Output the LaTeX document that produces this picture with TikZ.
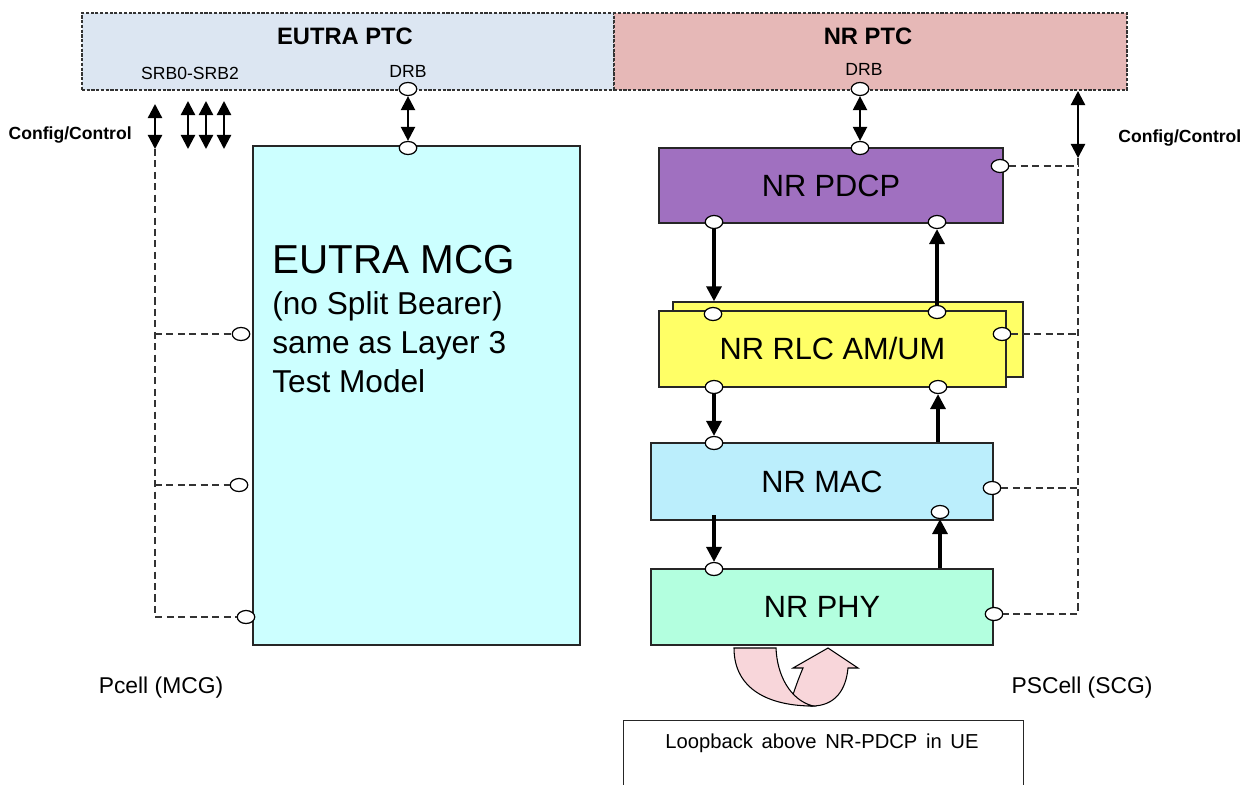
\documentclass[tikz,border=0pt]{standalone}
\usepackage{fontspec}
\setmainfont{Liberation Sans}
\usetikzlibrary{arrows.meta,shapes.geometric}
\definecolor{eutraptc}{HTML}{DCE6F2}
\definecolor{nrptc}{HTML}{E6B8B7}
\definecolor{eutramcg}{HTML}{CCFFFF}
\definecolor{pdcpfill}{HTML}{A070C0}
\definecolor{rlcfill}{HTML}{FFFF66}
\definecolor{macfill}{HTML}{BBEEFC}
\definecolor{phyfill}{HTML}{B3FFDF}
\definecolor{loopfill}{HTML}{F8D6DA}

\begin{document}
\begin{tikzpicture}[x=0.2mm,y=-0.2mm,
        ptc/.style={draw=black!80, dash pattern=on 1.8pt off 0.9pt, line width=0.6pt, minimum height=77*0.2mm, inner sep=0pt},
        layer/.style={draw=black!85, line width=0.8pt, inner sep=0pt, font=\fontsize{17.5}{20}\selectfont},
        port/.style={ellipse, draw=black, fill=white, line width=0.7pt, minimum width=3.5mm, minimum height=2.6mm, inner sep=0pt},
        biarrow/.style={{Triangle[width=8pt,length=8pt]}-{Triangle[width=8pt,length=8pt]}, line width=1.3pt},
        flow/.style={-{Triangle[width=8.5pt,length=8.5pt]}, line width=1.9pt},
        ctrl/.style={draw=black!80, dash pattern=on 4pt off 2.5pt, line width=0.6pt},
        small/.style={font=\fontsize{10}{12}\selectfont, inner sep=0pt},
        cfg/.style={font=\bfseries\fontsize{10}{12}\selectfont, inner sep=0pt},
        cell/.style={font=\fontsize{13}{15}\selectfont, inner sep=0pt}]
        \useasboundingbox (0,0) rectangle (1246,785);
        \clip (0,0) rectangle (1246,785);

        \node[ptc, fill=eutraptc, minimum width=532*0.2mm] (eptc) at (348,51.5) {};
        \node[ptc, fill=nrptc, minimum width=513*0.2mm] (nptc) at (870.5,51.5) {};
        \node[font=\bfseries\fontsize{13.5}{16}\selectfont, anchor=base] (eptctxt) at (345,45) {EUTRA PTC};
        \node[font=\bfseries\fontsize{13.5}{16}\selectfont, anchor=base] (nptctxt) at (868,45) {NR PTC};
        \node[small, anchor=base] (srb) at (190,80) {SRB0-SRB2};
        \node[small, anchor=base] (edrb) at (408,78) {DRB};
        \node[small, anchor=base] (ndrb) at (864,76) {DRB};

        \node[layer, fill=eutramcg, minimum width=327*0.2mm, minimum height=499*0.2mm] (mcg) at (416.5,395.5) {};
        \node[anchor=north west, align=left, inner sep=0pt, font=\fontsize{18}{22.2}\selectfont] (mcgtxt) at (272,245)
            {{\fontsize{23}{26}\selectfont EUTRA MCG}\\[1pt](no Split Bearer)\\same as Layer 3\\Test Model};

        \node[layer, fill=pdcpfill, minimum width=344*0.2mm, minimum height=75*0.2mm] (pdcp) at (831,185.5) {NR PDCP};
        \node[layer, fill=rlcfill, minimum width=350*0.2mm, minimum height=75*0.2mm] (rlcback) at (848,339.5) {};
        \node[layer, fill=rlcfill, minimum width=347*0.2mm, minimum height=76*0.2mm] (rlc) at (832.5,349) {NR RLC AM/UM};
        \node[layer, fill=macfill, minimum width=342*0.2mm, minimum height=77*0.2mm] (mac) at (822,481.5) {NR MAC};
        \node[layer, fill=phyfill, minimum width=342*0.2mm, minimum height=76*0.2mm] (phy) at (822,607) {NR PHY};

        \node[port] (edrbp) at (408,89) {};
        \node[port] (ndrbp) at (860,89) {};
        \node[port] (mcgtop) at (408,148) {};
        \node[port] (mcgl1) at (241,334) {};
        \node[port] (mcgl2) at (239,485) {};
        \node[port] (mcgl3) at (246,617) {};
        \node[port] (pdcptop) at (860,148) {};
        \node[port] (pdcpbl) at (714,222) {};
        \node[port] (pdcpbr) at (937,222) {};
        \node[port] (pdcpr) at (1000,166) {};
        \node[port] (rlctl) at (713,314) {};
        \node[port] (rlctr) at (937,312) {};
        \node[port] (rlcbl) at (714,387) {};
        \node[port] (rlcbr) at (938,387) {};
        \node[port] (rlcr) at (1002,334) {};
        \node[port] (mactl) at (714,443) {};
        \node[port] (macbr) at (940,512) {};
        \node[port] (macr) at (992,488) {};
        \node[port] (phytl) at (714,569) {};
        \node[port] (phyr) at (994,614) {};

        \draw[biarrow] (edrbp) -- (mcgtop);
        \draw[biarrow] (ndrbp) -- (pdcptop);
        \draw[flow] (pdcpbl) -- (pdcpbl |- rlcback.north);
        \draw[flow] (rlctr) -- (pdcpbr);
        \draw[flow] (rlcbl) -- (mactl);
        \draw[flow] (mac.north -| rlcbr) -- (rlcbr);
        \coordinate (macdown) at (714,515);
        \draw[flow] (macdown) -- (phytl);
        \draw[flow] (phy.north -| macbr) -- (macbr);

        \coordinate (cfgltop) at (155,104);
        \coordinate (cfglbot) at (155,149);
        \coordinate (cfglend) at (155,617);
        \draw[biarrow] (cfgltop) -- (cfglbot);
        \foreach \x in {188,206,224} {
            \coordinate (srbtop\x) at (\x,101);
            \coordinate (srbbot\x) at (\x,149);
            \draw[biarrow] (srbtop\x) -- (srbbot\x);
        }
        \draw[ctrl] (cfglbot) -- (cfglend) -- (mcgl3);
        \draw[ctrl] (cfglend |- mcgl1) -- (mcgl1);
        \draw[ctrl] (cfglend |- mcgl2) -- (mcgl2);

        \coordinate (cfgrtop) at (1078,91);
        \coordinate (cfgrbot) at (1078,158);
        \coordinate (cfgrend) at (1078,614);
        \draw[biarrow] (cfgrtop) -- (cfgrbot);
        \draw[ctrl] (cfgrbot) -- (cfgrend) -- (phyr);
        \draw[ctrl] (pdcpr) -- (pdcpr -| cfgrend);
        \draw[ctrl] (rlcr) -- (rlcr -| cfgrend);
        \draw[ctrl] (macr) -- (macr -| cfgrend);

        \node[cfg, anchor=base east] (cfgltxt) at (132,140) {Config/Control};
        \node[cfg, anchor=base west] (cfgrtxt) at (1118,143) {Config/Control};
        \node[cell, anchor=base] (pcell) at (161,693) {Pcell (MCG)};
        \node[cell, anchor=base] (pscell) at (1082,693) {PSCell (SCG)};

        \filldraw[fill=loopfill, draw=black, line width=0.6pt] (792,698) .. controls (796,685) and (800,675) .. (803,668) -- (793,668) -- (828,648) -- (858,668) -- (848,668) .. controls (846,690) and (835,706) .. (812,706) .. controls (803,706) and (796,703) .. (792,698) -- cycle;
        \filldraw[fill=loopfill, draw=black, line width=0.6pt] (734,648) -- (776,648) .. controls (777,675) and (790,700) .. (813,706) .. controls (770,706) and (734,690) .. (734,648) -- cycle;

        \node[draw=black!85, line width=0.8pt, fill=white, minimum width=400*0.2mm, minimum height=100*0.2mm, anchor=north west] (loopbox) at (623,720) {};
        \node[font=\fontsize{11.5}{14}\selectfont, anchor=base] (looptxt) at (822,748) {Loopback\hspace{0.15em} above\hspace{0.15em} NR-PDCP\hspace{0.15em} in\hspace{0.15em} UE};
\end{tikzpicture}
\end{document}
